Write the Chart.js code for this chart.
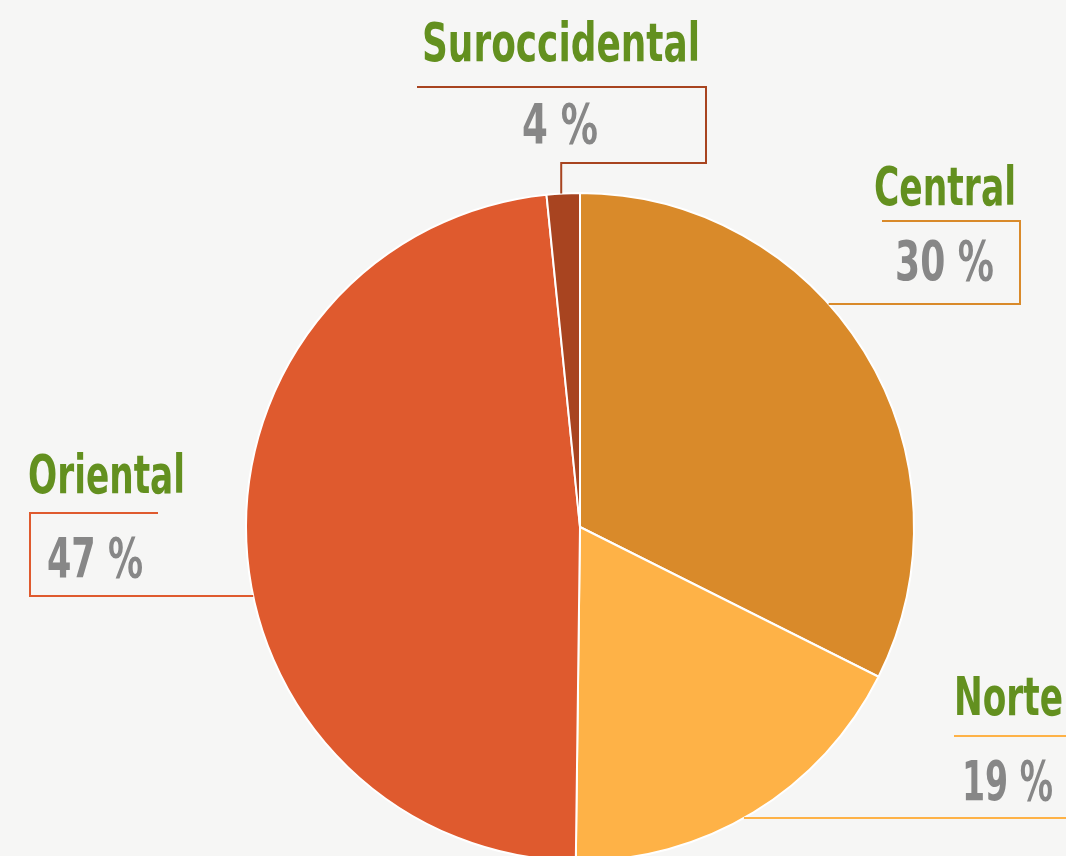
<!DOCTYPE html>
<html>
<head>
<meta charset="utf-8">
<script src="https://cdn.jsdelivr.net/npm/chart.js@4"></script>
<style>
  html, body { margin: 0; padding: 0; overflow: hidden; background: #f6f6f5; }
  canvas { display: block; }
</style>
</head>
<body>
<canvas id="myChart" width="1066" height="900"></canvas>
<script>
// data (slice sizes follow the drawn angles)
const regions = ['Central', 'Norte', 'Oriental', 'Suroccidental'];
const shares = [32.4, 17.8, 48.2, 1.6];
const pctLabels = ['30 %', '19 %', '47 %', '4 %'];
const colors = ['#d98a2a', '#feb247', '#df5a2e', '#a84420'];

const GREEN = '#63901f';
const GREY = '#878787';
const FONT = '"Liberation Sans Narrow", "DejaVu Sans Condensed", sans-serif';

// draw text squeezed to a given width (source font is very condensed)
function fitText(ctx, text, left, baseline, width, size, color) {
  ctx.save();
  ctx.font = 'bold ' + size + 'px ' + FONT;
  ctx.fillStyle = color;
  ctx.textBaseline = 'alphabetic';
  ctx.textAlign = 'left';
  const w = ctx.measureText(text).width;
  ctx.translate(left, baseline);
  ctx.scale(width / w, 1);
  ctx.fillText(text, 0, 0);
  ctx.restore();
}

function line(ctx, pts, color) {
  ctx.save();
  ctx.strokeStyle = color;
  ctx.lineWidth = 2;
  ctx.lineJoin = 'miter';
  ctx.beginPath();
  pts.forEach((p, i) => i ? ctx.lineTo(p[0], p[1]) : ctx.moveTo(p[0], p[1]));
  ctx.stroke();
  ctx.restore();
}

const calloutPlugin = {
  id: 'callouts',
  afterDraw(chart) {
    const ctx = chart.ctx;
    const arcs = chart.getDatasetMeta(0).data;
    const cx = arcs[0].x, cy = arcs[0].y, r = arcs[0].outerRadius;
    const edgeX = (y, side) => cx + side * Math.sqrt(Math.max(0, r * r - (y - cy) * (y - cy)));

    // Central
    line(ctx, [[882, 221], [1020, 221], [1020, 304], [edgeX(304, 1), 304]], colors[0]);
    fitText(ctx, regions[0], 874, 205, 142, 54, GREEN);
    fitText(ctx, pctLabels[0], 895, 280, 99, 55, GREY);

    // Norte
    line(ctx, [[954, 736], [1066, 736]], colors[1]);
    line(ctx, [[edgeX(818, 1), 818], [1066, 818]], colors[1]);
    fitText(ctx, regions[1], 954, 715, 109, 54, GREEN);
    fitText(ctx, pctLabels[1], 962, 800, 91, 55, GREY);

    // Oriental
    line(ctx, [[158, 513], [30, 513], [30, 596], [edgeX(596, -1), 596]], colors[2]);
    fitText(ctx, regions[2], 28, 493, 157, 54, GREEN);
    fitText(ctx, pctLabels[2], 47, 577, 96, 55, GREY);

    // Suroccidental
    const a = arcs[3];
    const mid = (a.startAngle + a.endAngle) / 2;
    const sx = cx + r * Math.cos(mid) - 2;
    const sy = cy - Math.sqrt(r * r - (sx - cx) * (sx - cx));
    line(ctx, [[sx, sy], [sx, 163], [706, 163], [706, 87], [417, 87]], colors[3]);
    fitText(ctx, regions[3], 422, 61, 278, 54, GREEN);
    fitText(ctx, pctLabels[3], 522, 143, 76, 55, GREY);
  }
};

const data = {
  labels: regions,
  datasets: [{
    data: shares,
    backgroundColor: colors,
    borderColor: '#ffffff',
    borderWidth: 2,
  }]
};

const config = {
  type: 'pie',
  data: data,
  options: {
    responsive: false,
    animation: false,
    layout: { padding: { left: 94, right: 0, top: 192, bottom: 38 } },
    plugins: {
      legend: { display: false },
      tooltip: { enabled: false },
      title: { display: false }
    }
  },
  plugins: [calloutPlugin]
};

const myChart = new Chart(document.getElementById('myChart'), config);
</script>
</body>
</html>
